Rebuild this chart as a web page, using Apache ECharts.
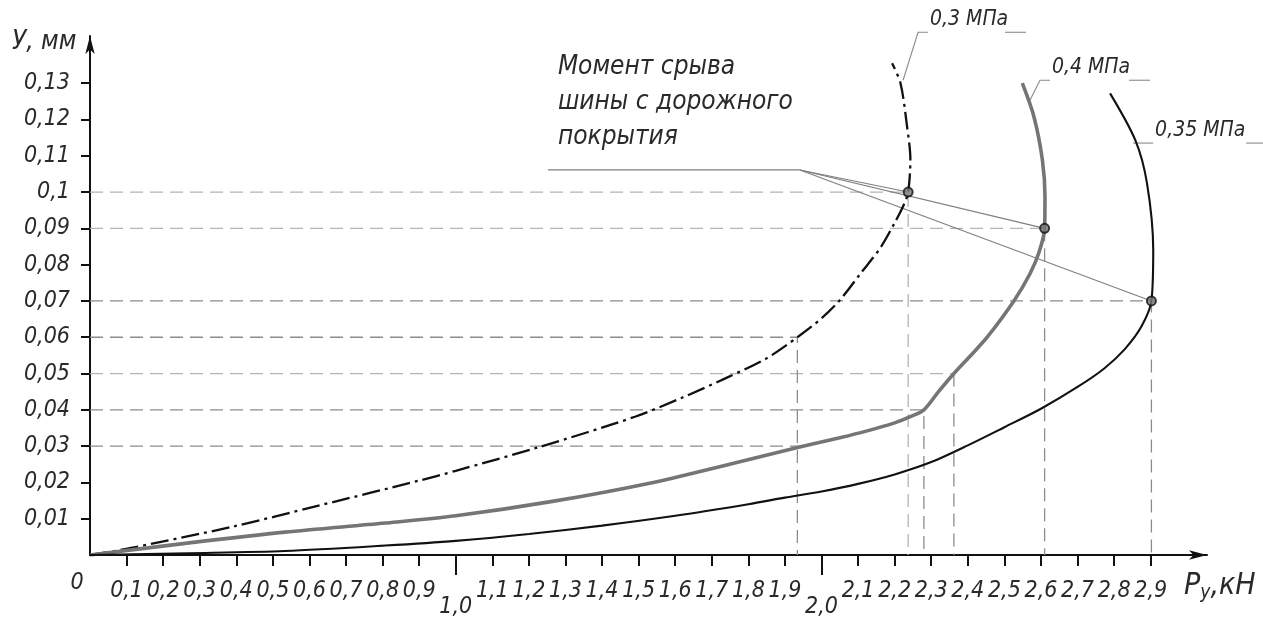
<!DOCTYPE html>
<html>
<head>
<meta charset="utf-8">
<script src="https://cdn.jsdelivr.net/npm/echarts@6/dist/echarts.min.js"></script>
<style>
  html, body { margin: 0; padding: 0; background: #fff; }
  #chart { width: 1263px; height: 619px; }
</style>
</head>
<body>
<div id="chart"></div>
<script>
// Lateral force Py (kN) against tyre deflection У (mm) for three inflation pressures.
// Each curve is a list of [Py, У] pairs; the curves bend back near the top, so x is not monotonic.
const curve03 = [
  [0, 0], [0.105, 0.0018], [0.39, 0.0078], [0.625, 0.0136], [0.9, 0.0205], [1.0, 0.0232],
  [1.23, 0.0298], [1.49, 0.0381], [1.62, 0.0434], [1.74, 0.0488], [1.85, 0.0542], [1.934, 0.06],
  [2.0, 0.0652], [2.05, 0.0702], [2.107, 0.0776], [2.16, 0.0845], [2.2, 0.0915], [2.225, 0.0965],
  [2.237, 0.1], [2.243, 0.109], [2.234, 0.118], [2.216, 0.13], [2.193, 0.1355]
];
const curve04 = [
  [0, 0], [0.26, 0.0032], [0.533, 0.0063], [0.807, 0.0088], [1.0, 0.0108], [1.26, 0.0147],
  [1.53, 0.0198], [1.76, 0.0253], [1.943, 0.0298], [2.05, 0.0323], [2.125, 0.0342], [2.2, 0.0364],
  [2.243, 0.0381], [2.28, 0.04], [2.32, 0.045], [2.362, 0.05], [2.41, 0.0552], [2.453, 0.06],
  [2.526, 0.07], [2.57, 0.0775], [2.595, 0.0835], [2.61, 0.09], [2.611, 0.0987],
  [2.604, 0.1088], [2.581, 0.1207], [2.549, 0.13]
];
const curve035 = [
  [0, 0], [0.27, 0.0005], [0.533, 0.0011], [0.807, 0.0026], [1.0, 0.0039], [1.2, 0.0058],
  [1.4, 0.0081], [1.6, 0.0108], [1.8, 0.014], [1.9, 0.0158], [2.0, 0.0175], [2.1, 0.0196],
  [2.2, 0.0222], [2.3, 0.0256], [2.4, 0.0302], [2.5, 0.0352], [2.6, 0.0403], [2.7, 0.0463],
  [2.773, 0.0514], [2.83, 0.0568], [2.875, 0.063], [2.902, 0.07], [2.907, 0.084],
  [2.89, 0.1024], [2.858, 0.1143], [2.789, 0.1272]
];
const curveNames = ['0,3 МПа', '0,4 МПа', '0,35 МПа'];

// Moment the tyre breaks away from the road surface, one point per curve
const breakPoints = [[2.237, 0.1], [2.61, 0.09], [2.902, 0.07]];

// Dashed projection lines onto both axes
const guidesDark = [
  [[0, 0.07], [2.902, 0.07], [2.902, 0]],
  [[0, 0.06], [1.934, 0.06], [1.934, 0]],
  [[0, 0.04], [2.28, 0.04], [2.28, 0]],
  [[0, 0.03], [1.943, 0.03]],
  [[2.362, 0.05], [2.362, 0]],
  [[2.61, 0.09], [2.61, 0]]
];
const guidesLight = [
  [[0, 0.1], [2.237, 0.1], [2.237, 0]],
  [[0, 0.09], [2.61, 0.09]],
  [[0, 0.05], [2.362, 0.05]]
];

// Leader of the "Момент срыва…" note: a shelf, then one ray to each break point
const noteShelf = [[1.252, 0.1061], [1.941, 0.1061]];

// Tick values
const xTicks = [0.1, 0.2, 0.3, 0.4, 0.5, 0.6, 0.7, 0.8, 0.9,
                1.1, 1.2, 1.3, 1.4, 1.5, 1.6, 1.7, 1.8, 1.9,
                2.1, 2.2, 2.3, 2.4, 2.5, 2.6, 2.7, 2.8, 2.9];
const xMajorTicks = [1.0, 2.0];
const yTicks = [0.01, 0.02, 0.03, 0.04, 0.05, 0.06, 0.07, 0.08, 0.09, 0.1, 0.11, 0.12, 0.13];

const FONT = "'Liberation Sans Narrow', 'DejaVu Sans Condensed', 'Liberation Sans', sans-serif";
const INK = '#111';
const TEXT = '#2a2a2a';

const comma = v => String(Number(v.toFixed(2))).replace('.', ',');
const comma1 = v => v.toFixed(1).replace('.', ',');

const chart = echarts.init(document.getElementById('chart'), null, { renderer: 'canvas' });

const axisLineStyle = { color: INK, width: 2 };
const labelStyle = { fontFamily: FONT, fontStyle: 'italic', fontSize: 23, color: TEXT };

const guideSeries = (lines, color) => lines.map(pts => ({
  type: 'line', data: pts, symbol: 'none', silent: true, z: 1,
  lineStyle: { color: color, width: 1.3, type: [13, 7] }
}));

const rays = breakPoints.map(p => ({
  type: 'line', data: [noteShelf[1], p], symbol: 'none', silent: true, z: 2,
  lineStyle: { color: '#7e7e7e', width: 1.1 }
}));

const curveSeries = (name, data, lineStyle) => ({
  name: name, type: 'line', data: data, symbol: 'none', z: 5,
  smooth: 0.3, lineStyle: lineStyle
});

chart.setOption({
  animation: false,
  backgroundColor: '#fff',
  grid: { left: 90, right: 56, top: 36, bottom: 64, outerBoundsMode: 'none' },
  xAxis: [
    {
      type: 'value', min: 0, max: 3.054, position: 'bottom',
      splitLine: { show: false },
      axisLine: { show: true, symbol: ['none', 'arrow'], symbolSize: [7, 18], lineStyle: axisLineStyle },
      axisTick: { show: true, customValues: xTicks, length: 11, lineStyle: axisLineStyle },
      axisLabel: Object.assign({ customValues: xTicks, margin: 25, formatter: comma1 }, labelStyle)
    },
    {
      type: 'value', min: 0, max: 3.054, position: 'bottom',
      splitLine: { show: false },
      axisLine: { show: false },
      axisTick: { show: true, customValues: xMajorTicks, length: 20, lineStyle: axisLineStyle },
      axisLabel: Object.assign({ customValues: xMajorTicks, margin: 41, formatter: comma1 }, labelStyle)
    }
  ],
  yAxis: {
    type: 'value', min: 0, max: 0.143,
    splitLine: { show: false },
    axisLine: { show: true, symbol: ['none', 'arrow'], symbolSize: [7, 18], lineStyle: axisLineStyle },
    axisTick: { show: true, customValues: yTicks, length: 9, lineStyle: axisLineStyle },
    axisLabel: Object.assign({ customValues: yTicks, margin: 20, formatter: comma }, labelStyle)
  },
  series: [
    ...guideSeries(guidesLight, '#b4b4b4'),
    ...guideSeries(guidesDark, '#8c8c8c'),
    {
      type: 'line', data: noteShelf, symbol: 'none', silent: true, z: 2,
      lineStyle: { color: '#7e7e7e', width: 1.3 }
    },
    ...rays,
    curveSeries(curveNames[0], curve03, { color: INK, width: 2.3, type: [18, 5, 3, 5] }),
    curveSeries(curveNames[1], curve04, { color: '#757575', width: 3.6 }),
    curveSeries(curveNames[2], curve035, { color: INK, width: 2.1 }),
    {
      type: 'scatter', data: breakPoints, symbol: 'circle', symbolSize: 9, z: 8,
      itemStyle: { color: '#777', borderColor: INK, borderWidth: 2 }
    }
  ]
});

// Captions and leaders placed relative to points on the curves
const px = p => chart.convertToPixel({ gridIndex: 0 }, p);
const origin = px([0, 0]);
const xEnd = px([3.054, 0]);
const yTop = px([0, 0.143]);
const shelf = px(noteShelf[0]);

const textEl = (x, y, text, size, extra) => ({
  type: 'text', x: x, y: y, silent: true,
  style: Object.assign({
    text: text, fontFamily: FONT, fontStyle: 'italic', fontSize: size, fill: TEXT
  }, extra || {})
});
const seg = (pts, color) => ({
  type: 'polyline', silent: true,
  shape: { points: pts },
  style: { stroke: color || '#8a8a8a', lineWidth: 1.1, fill: null }
});

// Pressure captions: leader from the curve to a short shelf, the caption, a trailing stroke
function pressureCaption(anchor, dx, dy, shelfLen, text, width) {
  const a = px(anchor);
  const k = [a[0] + dx, a[1] + dy];
  const t0 = k[0] + shelfLen + 2;
  return [
    seg([a, k, [k[0] + shelfLen, k[1]]]),
    textEl(t0, k[1] - 2, text, 21, { textVerticalAlign: 'bottom' }),
    seg([[t0 + width + 5, k[1]], [t0 + width + 26, k[1]]])
  ];
}

const graphics = [
  textEl(12, yTop[1] + 6, 'У, мм', 26, { textVerticalAlign: 'middle' }),
  textEl(origin[0] - 13, origin[1] + 28, '0', 23, { textAlign: 'center', textVerticalAlign: 'middle' }),
  {
    type: 'text', x: xEnd[0] - 23, y: origin[1] + 14, silent: true,
    style: {
      text: '{p|P}{s|у}{p|,кН}',
      rich: {
        p: { fontFamily: FONT, fontStyle: 'italic', fontSize: 30, fill: TEXT },
        s: { fontFamily: FONT, fontStyle: 'italic', fontSize: 19, fill: TEXT, padding: [15, 0, 0, 0] }
      }
    }
  },
  textEl(shelf[0] + 10, shelf[1] - 120, 'Момент срыва\nшины с дорожного\nпокрытия', 26,
         { lineHeight: 35 }),
  ...pressureCaption([2.223, 0.1308], 15, -48, 10, curveNames[0], 70),
  ...pressureCaption([2.57, 0.1253], 10, -20, 10, curveNames[1], 72),
  ...pressureCaption([2.852, 0.1135], 0, 0, 20, curveNames[2], 86)
];

chart.setOption({ graphic: graphics });
</script>
</body>
</html>
